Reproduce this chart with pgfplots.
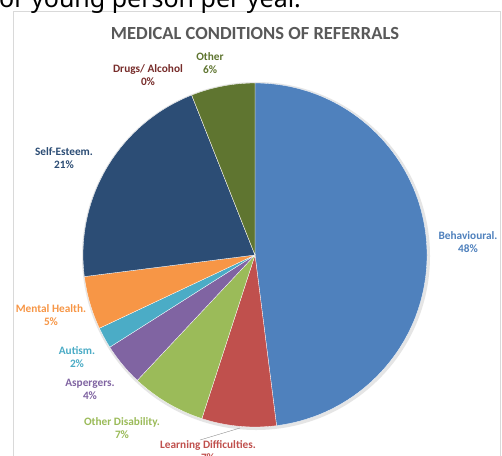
\documentclass[border=0pt]{standalone}
\usepackage{pgfplots}
\pgfplotsset{compat=1.18}
\usepackage{pgfplotstable}
\usepackage{fontspec}
\setmainfont{Carlito}
\newfontfamily\topfont{Noto Sans}
\definecolor{slice0}{HTML}{4F81BD}
\definecolor{slice1}{HTML}{C0504D}
\definecolor{slice2}{HTML}{9BBB59}
\definecolor{slice3}{HTML}{8064A2}
\definecolor{slice4}{HTML}{4BACC6}
\definecolor{slice5}{HTML}{F79646}
\definecolor{slice6}{HTML}{2C4D75}
\definecolor{slice7}{HTML}{772C2A}
\definecolor{slice8}{HTML}{5F7530}
\pgfplotstableread[col sep=comma]{
name,value,lx,ly
Behavioural.,48,468,242
Learning Difficulties.,7,208,451
Other Disability.,7,122,428.5
Aspergers.,4,90,389
Autism.,2,77,357
Mental Health.,5,51,315.5
Self-Esteem.,21,64,158.5
Drugs/ Alcohol,0,148,75
Other,6,210,63.5
}\piedata
\begin{document}
\begin{tikzpicture}
\useasboundingbox (0,0) rectangle (502pt,455pt);
\clip (0,0) rectangle (502pt,455pt);
\fill[white] (0,0) rectangle (502pt,455pt);
\begin{axis}[at={(0,0)}, anchor=south west, x=1pt, y=1pt,
  xmin=0, xmax=502, ymin=0, ymax=455, y dir=reverse,
  hide axis, clip=false]
\pgfplotsextra{
  \draw[color=black!15, line width=0.6pt] (axis cs:13,11) rectangle (axis cs:500,470);
  \node[anchor=base west, font=\topfont\fontsize{25}{30}\selectfont, inner sep=0pt] at (axis cs:-1,7) {or young person per year.};
  \node[anchor=base, font=\bfseries\fontsize{18.5}{22}\selectfont, text=black!65, inner sep=0pt] at (axis cs:255,39) {MEDICAL CONDITIONS OF REFERRALS};
  \fill[black!10] (axis cs:256,256) circle[radius=174pt];
  \gdef\cum{0}
  \pgfplotsforeachungrouped \i in {0,...,8}{
    \pgfplotstablegetelem{\i}{value}\of\piedata \let\v=\pgfplotsretval
    \pgfmathsetmacro\sa{90-3.6*\cum}
    \pgfmathsetmacro\ea{90-3.6*(\cum+\v)}
    \fill[color=slice\i, draw=white, line width=0.3pt] (axis cs:255,255) -- ++(\sa:172pt) arc[start angle=\sa, end angle=\ea, radius=172pt] -- cycle;
    \pgfmathsetmacro\cum{\cum+\v}
    \xdef\cum{\cum}
  }
  \draw[black!45, line width=0.4pt] (axis cs:200,440) -- (axis cs:240,428);
  \pgfplotsforeachungrouped \i in {0,...,8}{
    \pgfplotstablegetelem{\i}{value}\of\piedata \let\v=\pgfplotsretval
    \pgfplotstablegetelem{\i}{name}\of\piedata \let\nm=\pgfplotsretval
    \pgfplotstablegetelem{\i}{lx}\of\piedata \let\lx=\pgfplotsretval
    \pgfplotstablegetelem{\i}{ly}\of\piedata \let\ly=\pgfplotsretval
    \node[text=slice\i, font=\bfseries\fontsize{11.3}{13}\selectfont, align=center, inner sep=0pt] at (axis cs:\lx,\ly) {\nm\\\v\%};
  }
}
\end{axis}
\end{tikzpicture}
\end{document}
